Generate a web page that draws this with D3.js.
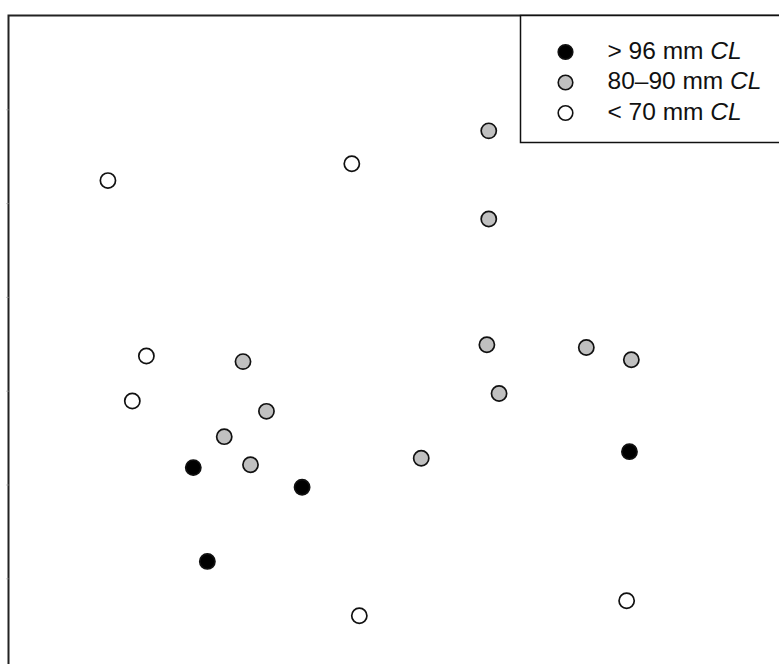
<!DOCTYPE html>
<html>
<head>
<meta charset="utf-8">
<script src="https://cdn.jsdelivr.net/npm/d3@7/dist/d3.min.js"></script>
<style>
  html, body { margin: 0; padding: 0; background: #fff; }
  svg { display: block; }
</style>
</head>
<body>
<svg id="chart" width="779" height="664"></svg>
<script>
// ---- Data (ordination coordinates) ----
const groups = ["> 96 mm", "80–90 mm", "< 70 mm"];
const groupFills = ["#000000", "#c0c0c0", "#ffffff"];

const largeX = [1.97, 3.13, 2.12, 6.62];
const largeY = [1.18, 0.97, 0.18, 1.35];

const midX = [5.12, 5.12, 2.50, 2.75, 2.30, 2.58, 5.10, 5.23, 4.40, 6.16, 6.64];
const midY = [4.77, 3.83, 2.31, 1.78, 1.51, 1.21, 2.49, 1.97, 1.28, 2.46, 2.33];

const smallX = [1.06, 3.66, 1.47, 1.32, 3.74, 6.59];
const smallY = [4.24, 4.42, 2.37, 1.89, -0.40, -0.24];

const yTicks = [0, 1, 2, 3, 4, 5];

// ---- Build point table ----
const points = [];
largeX.forEach((x, i) => points.push({ g: 0, x, y: largeY[i] }));
midX.forEach((x, i) => points.push({ g: 1, x, y: midY[i] }));
smallX.forEach((x, i) => points.push({ g: 2, x, y: smallY[i] }));

const svg = d3.select("#chart");

const plotLeft = 8.5, plotTop = 15.5;
const unit = 93.8;
const x = d3.scaleLinear().domain([0, 8.5]).range([plotLeft, plotLeft + 8.5 * unit]);
const y = d3.scaleLinear().domain([6, -1]).range([plotTop, plotTop + 7 * unit]);

// frame
svg.append("rect")
  .attr("x", x(0)).attr("y", y(6))
  .attr("width", x(8.5) - x(0))
  .attr("height", y(-1) - y(6))
  .attr("fill", "none")
  .attr("stroke", "#222")
  .attr("stroke-width", 2);

// faint left ticks
const yAxis = d3.axisLeft(y).tickValues(yTicks).tickSize(2).tickFormat("");
const ga = svg.append("g").attr("transform", `translate(${x(0)},0)`).call(yAxis);
ga.select(".domain").remove();
ga.selectAll(".tick line").attr("stroke", "#999").attr("stroke-width", 1);

// points
svg.append("g").selectAll("circle")
  .data(points)
  .join("circle")
  .attr("cx", d => x(d.x))
  .attr("cy", d => y(d.y))
  .attr("r", 7.6)
  .attr("fill", d => groupFills[d.g])
  .attr("stroke", "#111")
  .attr("stroke-width", 1.7);

// legend
const legX = 520.5, legY = 15.5;
const leg = svg.append("g");
leg.append("rect")
  .attr("x", legX).attr("y", legY)
  .attr("width", 300).attr("height", 127)
  .attr("fill", "#fff")
  .attr("stroke", "#111")
  .attr("stroke-width", 1.5);

const rowY = [52, 82.5, 113];
groups.forEach((g, i) => {
  leg.append("circle")
    .attr("cx", 565.5).attr("cy", rowY[i])
    .attr("r", 7.3)
    .attr("fill", groupFills[i])
    .attr("stroke", "#111")
    .attr("stroke-width", 1.6);
  const t = leg.append("text")
    .attr("x", 607.5).attr("y", rowY[i] + 6.5)
    .attr("font-family", "'Liberation Sans', Arial, sans-serif")
    .attr("font-size", 24.5)
    .attr("fill", "#111");
  t.append("tspan").text(g + " ");
  t.append("tspan").attr("font-style", "italic").text("CL");
});
</script>
</body>
</html>
